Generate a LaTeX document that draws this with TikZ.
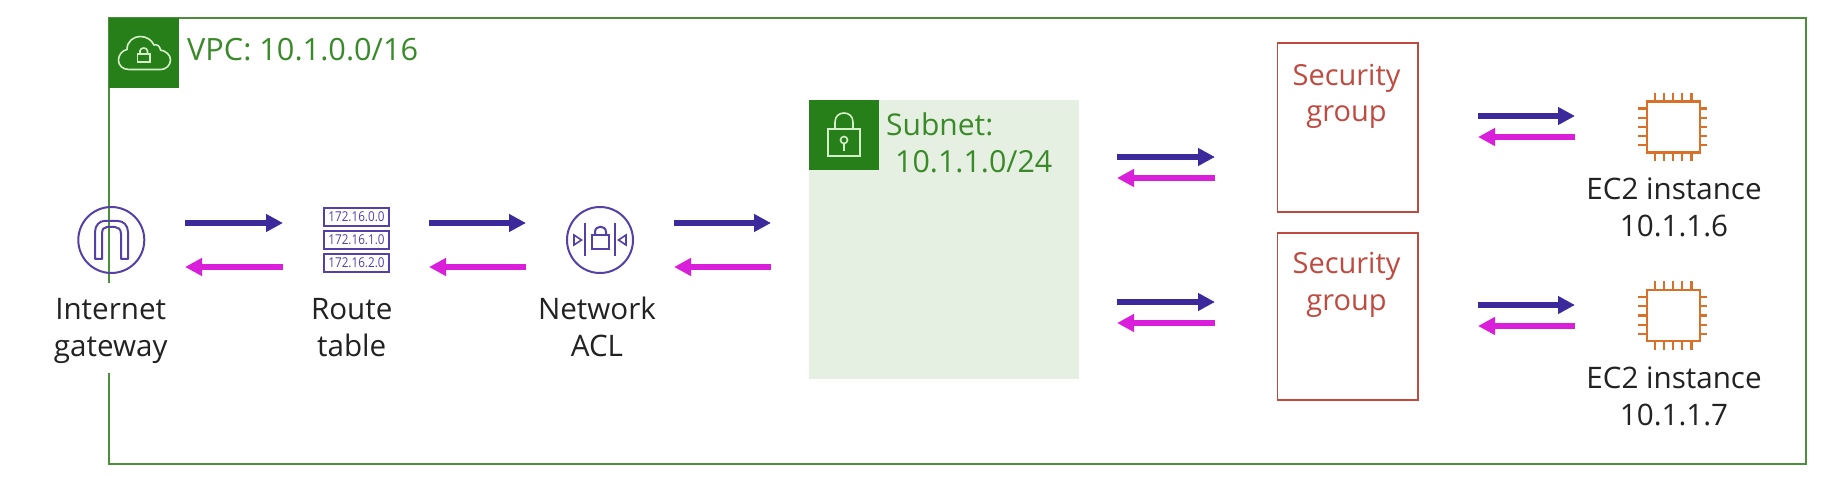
\documentclass[tikz,border=0pt]{standalone}
\usepackage{fontspec}
\usepackage{graphicx}
\setmainfont{Open Sans}[Scale=1.0]
\usetikzlibrary{arrows.meta}
\definecolor{vpcgreen}{HTML}{4C8F3A}
\definecolor{boxgreen}{HTML}{277F1A}
\definecolor{textgreen}{HTML}{3A8A2A}
\definecolor{subnetbg}{HTML}{E6F0E2}
\definecolor{iconpale}{HTML}{D5EFC8}
\definecolor{fwd}{HTML}{3C2A9C}
\definecolor{bck}{HTML}{D91FD9}
\definecolor{icopurple}{HTML}{5540A8}
\definecolor{sgred}{HTML}{BF4A40}
\definecolor{chip}{HTML}{D9702A}
\definecolor{ink}{HTML}{222222}
\tikzset{
  x=1pt,y=-1pt,
  fwdarrow/.style={draw=fwd,line width=6.5pt,-{Triangle[length=17pt,width=17pt]}},
  bckarrow/.style={draw=bck,line width=6.5pt,-{Triangle[length=17pt,width=17pt]}},
  lab/.style={inner sep=0pt,anchor=base,align=center,text=ink,font=\fontsize{29.6}{37}\selectfont},
  sglab/.style={inner sep=0pt,anchor=base,align=center,text=sgred,font=\fontsize{29}{36}\selectfont},
  greenlab/.style={inner sep=0pt,anchor=base west,align=left,text=textgreen},
  sgbox/.style={draw=sgred,line width=1.8pt,fill=white,inner sep=0pt},
  tag/.style={fill=boxgreen,inner sep=0pt,minimum width=70pt,minimum height=70pt},
  ico/.style={draw=icopurple,line width=2pt},
  pale/.style={draw=iconpale,line width=1.6pt},
  rtbox/.style={draw=icopurple,line width=2.2pt,fill=white,inner sep=0pt,minimum width=65pt,minimum height=18.5pt,text=icopurple,font=\fontsize{13.6}{15}\selectfont},
  pin/.style={draw=chip,line width=2.2pt},
  chipbody/.style={draw=chip,line width=2.6pt,fill=white,inner sep=0pt,minimum width=53pt,minimum height=51pt},
}
\newcommand{\rttext}[1]{\scalebox{0.86}[1]{#1}}
\newcommand{\chipicon}[2]{%
  \foreach \d in {-18.4,-9.2,0,9.2,18.4}{
    \draw[pin] (1673+\d,#2-34) -- (1673+\d,#2+34);
    \draw[pin] (1673-35,#2+\d) -- (1673+34,#2+\d);
  }
  \node[chipbody] (#1) at (1673.5,#2) {};
}
\newcommand{\arrowpair}[5]{%
  \coordinate (#1fa) at (#2,#4); \coordinate (#1fb) at (#3,#4);
  \coordinate (#1ba) at (#3,#5); \coordinate (#1bb) at (#2,#5);
  \draw[fwdarrow] (#1fa) -- (#1fb);
  \draw[bckarrow] (#1ba) -- (#1bb);
}
\begin{document}
\begin{tikzpicture}
\useasboundingbox (0,0) rectangle (1847,486);
\fill[white] (0,0) rectangle (1847,486);
% VPC border with a gap at the gateway label
\coordinate (vpcA) at (109,373);
\coordinate (vpcB) at (109,464);
\coordinate (vpcC) at (1806,464);
\coordinate (vpcD) at (1806,18);
\coordinate (vpcE) at (109,18);
\coordinate (vpcF) at (109,283);
\draw[vpcgreen,line width=1.8pt,line join=miter] (vpcA) -- (vpcB) -- (vpcC) -- (vpcD) -- (vpcE) -- (vpcF);
\node[tag,anchor=north west] (vpctag) at (109,18) {};
% cloud
\draw[pale,line join=round] (129,69.5) .. controls (122,69.5) and (118.5,65) .. (118.5,60)
  .. controls (118.5,55) and (122,50.5) .. (127,49.5)
  .. controls (127,41) and (134,36.5) .. (140,36.5)
  .. controls (147,36.5) and (151.5,40) .. (154,45)
  .. controls (157,44) and (160,46) .. (160.5,50)
  .. controls (166,51) and (170.5,55) .. (170.5,60)
  .. controls (170.5,65) and (166,69.5) .. (161,69.5) -- cycle;
\draw[pale] (137.5,54) rectangle (150,62);
\draw[pale] (140,54) -- (140,51) .. controls (140,47) and (147.5,47) .. (147.5,51) -- (147.5,54);
\node[greenlab,font=\fontsize{30.7}{36}\selectfont] (vpclab) at (187,61) {VPC: 10.1.0.0/16};

% Subnet
\node[fill=subnetbg,inner sep=0pt,minimum width=270pt,minimum height=279pt,anchor=north west] (subnet) at (809,100) {};
\node[tag,anchor=north west] (subnettag) at (809,100) {};
\draw[pale] (828,129) rectangle (860,156);
\draw[pale] (835,129) -- (835,122) .. controls (835,110) and (853,110) .. (853,122) -- (853,129);
\draw[pale] (844,140) circle (3.5);
\draw[pale] (844,143.5) -- (844,151);
\node[greenlab,font=\fontsize{30}{36}\selectfont] (subnetlab1) at (886,136) {Subnet:};
\node[greenlab,font=\fontsize{30.4}{36}\selectfont] (subnetlab2) at (895,173) {10.1.1.0/24};

% Internet gateway
\node[ico,circle,minimum size=66pt,inner sep=0pt] (igw) at (111.3,240) {};
\draw[ico,line join=round] (95,259) -- (95,232) .. controls (95,225) and (100,221) .. (104,221) -- (118,221) .. controls (123,221) and (128,225) .. (128,232) -- (128,259) -- (121,259) -- (121,234) .. controls (121,229) and (118,227) .. (115,227) -- (107,227) .. controls (104,227) and (102,229) .. (102,234) -- (102,259) -- cycle;
\node[lab] (igwlab) at (110.7,356) {Internet\\gateway};

% Route table
\node[rtbox] (rt1) at (356.5,217) {\rttext{172.16.0.0}};
\node[rtbox] (rt2) at (356.5,240) {\rttext{172.16.1.0}};
\node[rtbox] (rt3) at (356.5,263) {\rttext{172.16.2.0}};
\node[lab] (rtlab) at (351.7,356) {Route\\table};

% Network ACL
\node[ico,circle,minimum size=66pt,inner sep=0pt] (nacl) at (600,240) {};
\draw[ico] (585,223) -- (585,256);
\draw[ico] (615,223) -- (615,256);
\draw[ico] (592,235) rectangle (609,249);
\draw[ico] (595,235) -- (595,232) .. controls (595,225) and (606,225) .. (606,232) -- (606,235);
\draw[ico,line width=1.6pt] (574,235) -- (581.5,240) -- (574,245) -- cycle;
\draw[ico,line width=1.6pt] (626,235) -- (618.5,240) -- (626,245) -- cycle;
\node[lab] (nacllab) at (597,356) {Network\\ACL};

% Security groups
\node[sgbox,minimum width=140.5pt,minimum height=169pt,anchor=north west] (sg1) at (1276.5,42) {};
\node[sgbox,minimum width=140.5pt,minimum height=167pt,anchor=north west] (sg2) at (1276.5,232) {};
\node[sglab] (sg1lab) at (1346.5,122) {Security\\group};
\node[sglab] (sg2lab) at (1346.5,310) {Security\\group};

% EC2
\chipicon{ec2a}{127}
\chipicon{ec2b}{315.5}
\node[lab] (ec2alab) at (1674,237) {EC2 instance\\10.1.1.6};
\node[lab] (ec2blab) at (1674,425) {EC2 instance\\10.1.1.7};

% Arrows
\arrowpair{a}{185}{283}{223}{267}
\arrowpair{b}{429}{526}{223}{267}
\arrowpair{c}{674}{771}{223}{267}
\arrowpair{d}{1117}{1215}{157}{178}
\arrowpair{e}{1117}{1215}{302}{323}
\arrowpair{f}{1478}{1575}{116}{137}
\arrowpair{g}{1478}{1575}{305}{326}
\end{tikzpicture}
\end{document}
